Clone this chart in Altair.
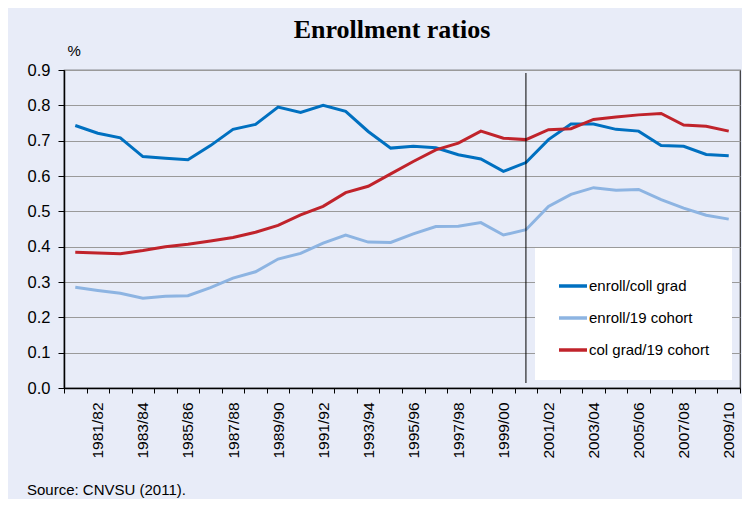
import altair as alt
import pandas as pd

years = ["1980/81", "1981/82", "1982/83", "1983/84", "1984/85", "1985/86", "1986/87",
         "1987/88", "1988/89", "1989/90", "1990/91", "1991/92", "1992/93", "1993/94",
         "1994/95", "1995/96", "1996/97", "1997/98", "1998/99", "1999/00", "2000/01",
         "2001/02", "2002/03", "2003/04", "2004/05", "2005/06", "2006/07", "2007/08",
         "2008/09", "2009/10"]

enroll_coll_grad = [0.743, 0.721, 0.708, 0.655, 0.650, 0.646, 0.686, 0.732, 0.746, 0.795,
                    0.780, 0.800, 0.783, 0.726, 0.679, 0.684, 0.680, 0.660, 0.648, 0.613,
                    0.638, 0.703, 0.747, 0.747, 0.732, 0.727, 0.686, 0.684, 0.661, 0.657]
enroll_19_cohort = [0.285, 0.276, 0.268, 0.254, 0.260, 0.261, 0.284, 0.311, 0.329, 0.365,
                    0.381, 0.410, 0.433, 0.413, 0.412, 0.436, 0.457, 0.458, 0.468, 0.433,
                    0.448, 0.514, 0.548, 0.567, 0.560, 0.562, 0.533, 0.509, 0.489, 0.478]
col_grad_19_cohort = [0.384, 0.382, 0.380, 0.389, 0.400, 0.407, 0.416, 0.426, 0.441, 0.460,
                      0.490, 0.514, 0.553, 0.571, 0.606, 0.641, 0.674, 0.693, 0.727, 0.707,
                      0.703, 0.731, 0.734, 0.760, 0.767, 0.773, 0.777, 0.744, 0.741, 0.727]

series_names = ["enroll/coll grad", "enroll/19 cohort", "col grad/19 cohort"]
series_colors = ["#0070C0", "#8DB4E2", "#C0232B"]
marker_year = ["2000/01"]
y_ticks = [0.0, 0.1, 0.2, 0.3, 0.4, 0.5, 0.6, 0.7, 0.8, 0.9]
source_text = ["Source: CNVSU (2011)."]

rows = []
for name, vals in zip(series_names, [enroll_coll_grad, enroll_19_cohort, col_grad_19_cohort]):
    for yr, v in zip(years, vals):
        rows.append({"year": yr, "series": name, "value": v})
df = pd.DataFrame(rows)

FONT = "Liberation Sans"

x_enc = alt.X(
    "year:N", sort=years, bandPosition=0.5,
    scale=alt.Scale(type="band", paddingInner=0, paddingOuter=0),
    axis=alt.Axis(
        title=None, labelAngle=-90, labelFontSize=15.5, labelFont=FONT, labelColor="black",
        tickBand="extent", tickColor="black", tickSize=5, domainColor="black",
        domainWidth=1.5, grid=False, labelPadding=9, labelOverlap=False,
        labelExpr="toNumber(substring(datum.value, 0, 4)) % 2 == 1 ? datum.value : ''",
    ),
)

lines = alt.Chart(df).mark_line(strokeWidth=3).encode(
    x=x_enc,
    y=alt.Y(
        "value:Q",
        scale=alt.Scale(domain=[0, 0.9], nice=False, zero=True),
        axis=alt.Axis(
            values=y_ticks, format=".1f", labelFontSize=16.5, labelFont=FONT,
            labelColor="black", tickSize=6, tickColor="black", domainColor="black",
            domainWidth=1.5, gridColor="#9a9a9a", gridWidth=1, labelPadding=8,
            title="%", titleAngle=0, titleAlign="left", titleBaseline="bottom",
            titleX=3, titleY=-12, titleFontWeight="normal", titleFontSize=15,
            titleFont=FONT, titleColor="black",
        ),
    ),
    color=alt.Color(
        "series:N",
        scale=alt.Scale(domain=series_names, range=series_colors),
        sort=series_names,
        legend=alt.Legend(
            title=None, orient="none", legendX=471, legendY=178, fillColor="white",
            symbolType="stroke", symbolStrokeWidth=3.5, symbolSize=784,
            labelFontSize=15, labelFont=FONT, labelColor="black", rowPadding=8,
            padding=22, labelOffset=0,
        ),
    ),
)

vline = alt.Chart(pd.DataFrame({"year": marker_year})).mark_rule(
    color="black", strokeWidth=1
).encode(
    x=alt.X("year:N", sort=years, bandPosition=0.5),
    y=alt.value(3),
    y2=alt.value(313),
)

source = alt.Chart(pd.DataFrame({"t": source_text})).mark_text(
    align="left", baseline="middle", fontSize=15, font=FONT, color="black"
).encode(
    x=alt.value(-37),
    y=alt.value(420),
    text="t:N",
)

chart = alt.layer(lines, vline, source).properties(
    width=676,
    height=318,
    title=alt.TitleParams(
        "Enrollment ratios", font="Liberation Serif", fontSize=26, fontWeight="bold",
        anchor="middle", frame="group", offset=0, dx=-10, color="black",
    ),
    autosize=alt.AutoSizeParams(type="none"),
    padding={"left": 56, "top": 62, "right": 2, "bottom": 111},
    background="#E8ECF8",
).configure_view(stroke="#333333", strokeWidth=1.2)

chart.save("out.html", embed_options={"renderer": "svg", "actions": False})
